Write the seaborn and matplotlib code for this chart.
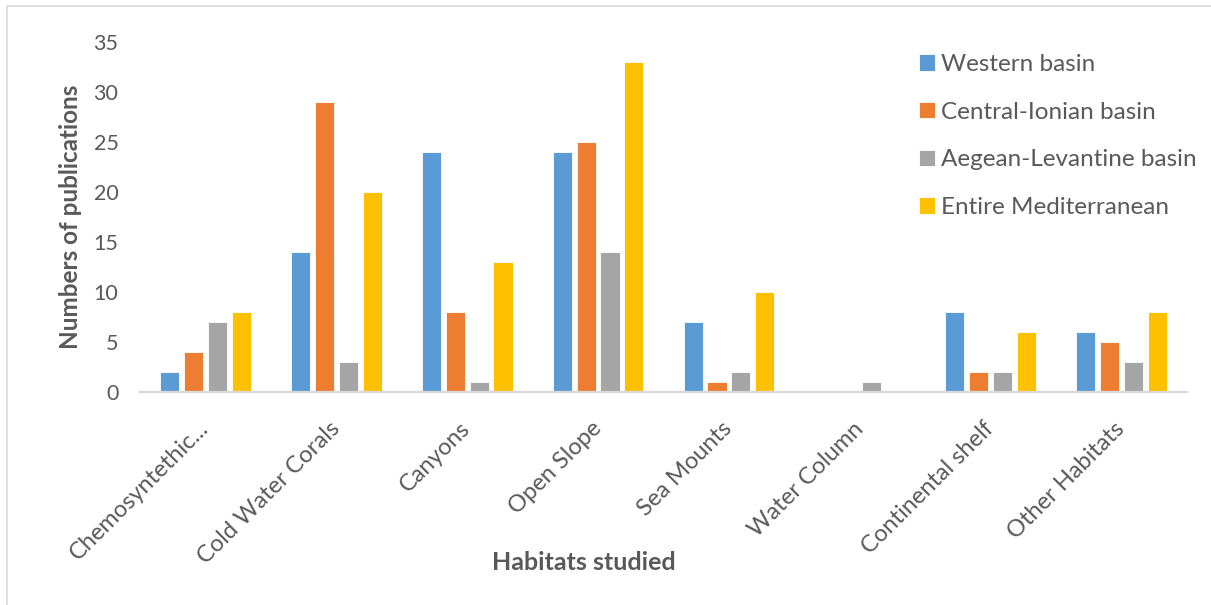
import matplotlib
matplotlib.use("Agg")
import matplotlib.pyplot as plt
from matplotlib.lines import Line2D
import pandas as pd
import seaborn as sns

habitats = ["Chemosyntethic...", "Cold Water Corals", "Canyons", "Open Slope",
            "Sea Mounts", "Water Column", "Continental shelf", "Other Habitats"]
regions = ["Western basin", "Central-Ionian basin", "Aegean-Levantine basin",
           "Entire Mediterranean"]
western = [2, 14, 24, 24, 7, 0, 8, 6]
central_ionian = [4, 29, 8, 25, 1, 0, 2, 5]
aegean_levantine = [7, 3, 1, 14, 2, 1, 2, 3]
entire_med = [8, 20, 13, 33, 10, 0, 6, 8]
colors = ["#5B9BD5", "#ED7D31", "#A5A5A5", "#FFC000"]
yticks = [0, 5, 10, 15, 20, 25, 30, 35]

series = [western, central_ionian, aegean_levantine, entire_med]
df = pd.DataFrame(
    [(h, r, v) for r, vals in zip(regions, series) for h, v in zip(habitats, vals)],
    columns=["Habitat", "Region", "Count"],
)

sns.set_theme(style="white")
plt.rcParams["font.family"] = ["Lato", "DejaVu Sans"]
text_color = "#595959"

W, H = 1211, 605
fig = plt.figure(figsize=(W / 100, H / 100), dpi=100)
ax = fig.add_axes([140 / W, 1 - 392 / H, (1187 - 140) / W, (392 - 42) / H])

sns.barplot(data=df, x="Habitat", y="Count", hue="Region", order=habitats,
            hue_order=regions, palette=colors, width=0.73, gap=0.2,
            edgecolor="white", linewidth=0.6, saturation=1, ax=ax, legend=True)

ax.set_ylim(0, 35)
ax.set_yticks(yticks)
ax.set_xlim(-0.5, len(habitats) - 0.5)
for s in ["top", "right", "left"]:
    ax.spines[s].set_visible(False)
ax.spines["bottom"].set_color("#D9D9D9")
ax.spines["bottom"].set_linewidth(1.6)
ax.tick_params(axis="y", length=0, pad=15.5, labelsize=15.5, labelcolor=text_color)
ax.tick_params(axis="x", length=0, pad=24, labelsize=17, labelcolor=text_color)
for lab in ax.get_xticklabels():
    lab.set_rotation(45)
    lab.set_ha("right")
    lab.set_va("center")
    lab.set_rotation_mode("anchor")

ax.set_xlabel("")
ax.set_ylabel("Numbers of publications", fontsize=17.5, fontweight="bold",
              color=text_color)
ax.yaxis.set_label_coords((82 - 140) / (1187 - 140), 0.5)
fig.text(584 / W, 1 - 563 / H, "Habitats studied", fontsize=18,
         fontweight="bold", color=text_color, ha="center", va="center")

handles, labels = ax.get_legend_handles_labels()
ax.get_legend().remove()
fig.legend(handles, labels, loc="upper left",
           bbox_to_anchor=(919 / W, 1 - 54 / H), frameon=False,
           fontsize=17.5, labelcolor=text_color, handlelength=0.66,
           handleheight=0.66, handletextpad=0.25, labelspacing=1.1,
           borderpad=0, borderaxespad=0)

# light frame along the top and left edges
fig.add_artist(Line2D([7 / W, 1], [1 - 6 / H, 1 - 6 / H], color="#D9D9D9", lw=1.2))
fig.add_artist(Line2D([7 / W, 7 / W], [0, 1 - 6 / H], color="#D9D9D9", lw=1.2))

fig.savefig("out.png", dpi=100, facecolor="white")
